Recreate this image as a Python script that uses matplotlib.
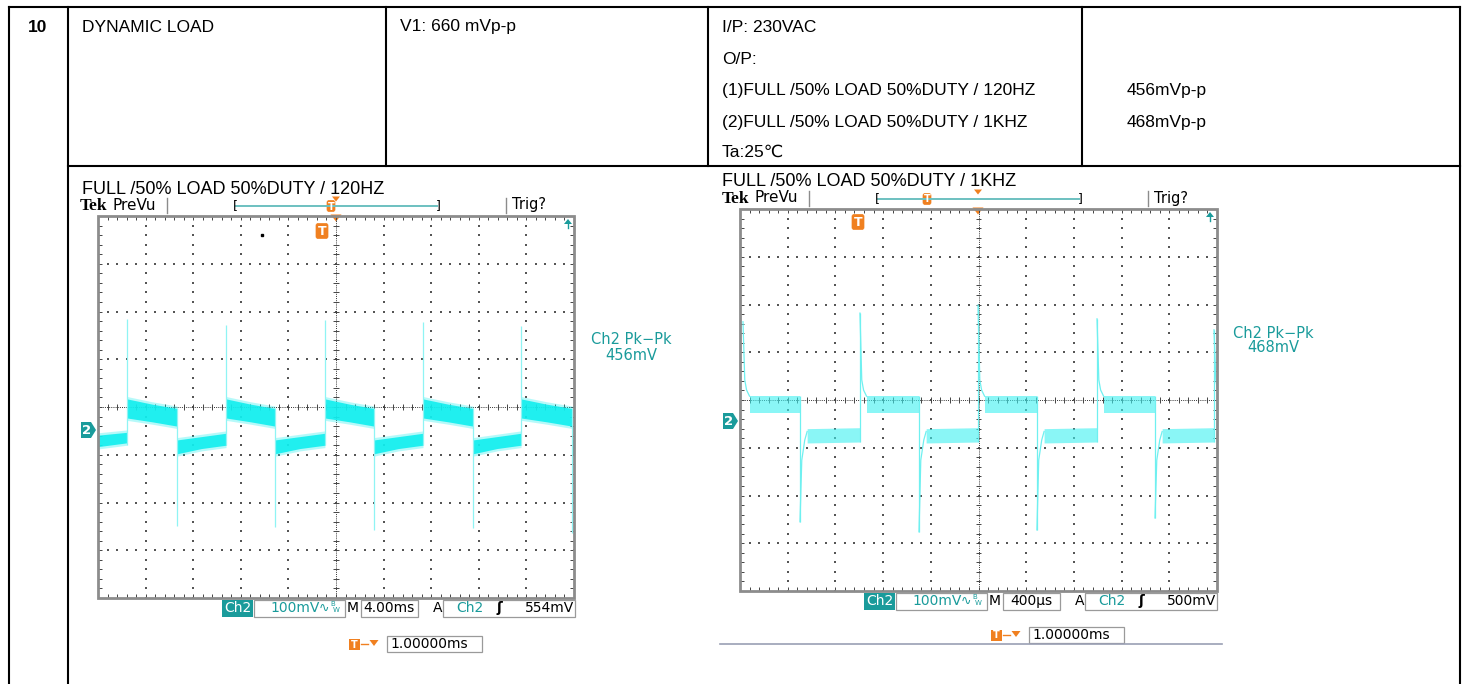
import matplotlib
matplotlib.use('Agg')
import matplotlib.pyplot as plt
from matplotlib import font_manager as fm
from matplotlib.patches import Rectangle, Polygon, FancyBboxPatch
import numpy as np

# ---------------- data ----------------
row_number = "10"
test_item = "DYNAMIC LOAD"
spec_text = "V1: 660 mVp-p"
condition_lines = ["I/P: 230VAC", "O/P:", "(1)FULL /50% LOAD 50%DUTY / 120HZ",
                   "(2)FULL /50% LOAD 50%DUTY / 1KHZ", "Ta:25\u2103"]
result_lines = ["", "", "456mVp-p", "468mVp-p", ""]
captions = ["FULL /50% LOAD 50%DUTY / 120HZ", "FULL /50% LOAD 50%DUTY / 1KHZ"]
pkpk_labels = ["456mV", "468mV"]
timebase_labels = ["4.00ms", "400\u00b5s"]
trigger_labels = ["554mV", "500mV"]
volt_label = "100mV"
delay_label = "1.00000ms"

# Scope 1 (120 Hz): time in ms (4 ms/div), voltage in mV (100 mV/div) from graticule centre
s1_tdiv = 4.0
s1_rise_t = [2.44, 10.76, 19.07, 27.31, 35.55]
s1_fall_t = [6.64, 14.87, 23.19, 31.51, 39.83]
s1_spike_up = [184, 172, 182, 178, 170]
s1_spike_down = [-249, -251, -258, -254, -264]
s1_high_top = [17, 6, -3]        # start / middle / end of each high plateau
s1_high_bot = [-23, -31, -40]
s1_low_top = [-69, -62, -55]     # start / middle / end of each low plateau
s1_low_bot = [-98, -87, -80]
s1_first_low_top = [-59, -53]
s1_first_low_bot = [-83, -75]

# Scope 2 (1 kHz): time in us (400 us/div), voltage in mV
s2_tdiv = 400.0
s2_rise_t = [25, 1006, 1996, 2994, 3975]
s2_spike_up = [164, 182, 199, 170, 147]
s2_fall_t = [503, 1501, 2490, 3480]
s2_spike_down = [-255, -276, -272, -247]
s2_high_top = [8, 8]
s2_high_bot = [-27, -27]
s2_low_top = [-60, -59, -58]
s2_low_bot = [-90, -89, -88]
s2_up_tail_dt = [0, 15, 30, 55]
s2_up_tail_v = [42, 21, 8]
s2_down_tail_dt = [0, 15, 40, 60]
s2_down_tail_v = [-126, -84, -66]

# ---------------- fonts ----------------
names = {f.name for f in fm.fontManager.ttflist}
if 'Liberation Sans Narrow' in names:
    NARROW, NSIZE = 'Liberation Sans Narrow', 15.0
else:
    NARROW, NSIZE = 'Liberation Sans', 12.5
NARROW_F = [NARROW, 'DejaVu Sans']

W, H = 1467, 684
fig = plt.figure(figsize=(W / 100, H / 100), dpi=100)
fig.patch.set_facecolor('white')
bg = fig.add_axes([0, 0, 1, 1])
bg.set_xlim(0, W)
bg.set_ylim(H, 0)
bg.axis('off')

LW = 1.5
def hline(y, x0, x1, lw=LW, c='black'):
    bg.plot([x0, x1], [y, y], color=c, lw=lw, solid_capstyle='projecting')
def vline(x, y0, y1, lw=LW, c='black'):
    bg.plot([x, x], [y0, y1], color=c, lw=lw, solid_capstyle='projecting')

# table frame
hline(7, 9, 1460)
vline(9, 7, 684)
vline(1460, 7, 684)
vline(68, 7, 684)
for x in (386, 708, 1082):
    vline(x, 7, 166)
hline(166, 68, 1460)

# table text
bg.text(28, 27, row_number, family=NARROW_F, fontsize=NSIZE, fontweight='bold', va='center', ha='left')
bg.text(82, 27, test_item, family=NARROW_F, fontsize=NSIZE, va='center', ha='left')
bg.text(400, 27, spec_text, family=NARROW_F, fontsize=NSIZE, va='center', ha='left')
cond_y = [27, 59, 91, 123, 152]
for y, t, r in zip(cond_y, condition_lines, result_lines):
    bg.text(722, y, t, family=NARROW_F, fontsize=NSIZE, va='center', ha='left')
    if r:
        bg.text(1127, y, r, family=NARROW_F, fontsize=NSIZE, va='center', ha='left')

bg.text(82, 189, captions[0], family=['Liberation Sans', 'DejaVu Sans'], fontsize=13, va='center', ha='left')
bg.text(722, 181, captions[1], family=['Liberation Sans', 'DejaVu Sans'], fontsize=13, va='center', ha='left')

TEAL = '#1a9b9b'
ORANGE = '#f08020'
SCOPE_F = 'DejaVu Sans'


def tmarker(x, y, w, h, fs):
    bg.add_patch(FancyBboxPatch((x - w / 2, y - h / 2), w, h, boxstyle='round,pad=0,rounding_size=2',
                                fc=ORANGE, ec=ORANGE, lw=0.5))
    bg.text(x, y + 0.5, 'T', color='white', fontsize=fs, fontweight='bold', family=SCOPE_F,
            ha='center', va='center')


def tri_down(x, y, w, h):
    bg.add_patch(Polygon([[x - w / 2, y - h / 2], [x + w / 2, y - h / 2], [x, y + h / 2]],
                         closed=True, fc=ORANGE, ec='none'))


def outline_box(x0, x1, yc, h=17):
    bg.add_patch(Rectangle((x0, yc - h / 2), x1 - x0, h, fc='white', ec='#9a9a9a', lw=0.9))


def scope_decor(x0, y0, small_t_dx, big_t, idx):
    # header
    bg.text(x0 - 18, y0 - 10, 'Tek', family=['Liberation Serif'], fontweight='bold', fontsize=12.5,
            ha='left', va='center')
    bg.text(x0 + 14, y0 - 11, 'PreVu', family=SCOPE_F, fontsize=11, ha='left', va='center')
    for dx in (69, 408):
        vline(x0 + dx, y0 - 18, y0 - 3, lw=1.0, c='#8c8c8c')
    bg.text(x0 + 414, y0 - 11, 'Trig?', family=SCOPE_F, fontsize=10.5, ha='left', va='center')
    bg.plot([x0 + 138, x0 + 339], [y0 - 10, y0 - 10], color='#6cc0c0', lw=1.4)
    bg.text(x0 + 137, y0 - 10, '[', family=SCOPE_F, fontsize=9, ha='center', va='center')
    bg.text(x0 + 340, y0 - 10, ']', family=SCOPE_F, fontsize=9, ha='center', va='center')
    tri_down(x0 + 238, y0 - 17, 8, 5)
    tmarker(x0 + small_t_dx, y0 - 10, 8, 11, 7)
    # markers on graticule
    tri_down(x0 + 238, y0 + 2, 11, 7)
    tmarker(x0 + big_t[0], y0 + big_t[1], 12, 15, 9)
    bg.add_patch(Polygon([[x0 + 466, y0 + 8], [x0 + 474, y0 + 8], [x0 + 470, y0 + 3]],
                         closed=True, fc=TEAL, ec='none'))
    vline(x0 + 470, y0 + 7, y0 + 12, lw=1.0, c=TEAL)
    # channel 2 ground marker
    cy = y0 + (214 if idx == 0 else 212)
    bg.add_patch(Polygon([[x0 - 17, cy - 8], [x0 - 7, cy - 8], [x0 - 2, cy], [x0 - 7, cy + 8], [x0 - 17, cy + 8]],
                         closed=True, fc=TEAL, ec='none'))
    bg.text(x0 - 11, cy + 0.5, '2', color='white', fontsize=9.5, fontweight='bold', family=SCOPE_F,
            ha='center', va='center')
    # Pk-Pk readout
    bg.text(x0 + 533, y0 + 124, 'Ch2 Pk\u2212Pk', color=TEAL, family=SCOPE_F, fontsize=10.5,
            ha='center', va='center')
    bg.text(x0 + 533, y0 + 139, pkpk_labels[idx], color=TEAL, family=SCOPE_F, fontsize=10.5,
            ha='center', va='center')
    # status bar
    sy = y0 + 392
    bg.add_patch(Rectangle((x0 + 124, sy - 8.5), 31, 17, fc=TEAL, ec='none'))
    bg.text(x0 + 139.5, sy, 'Ch2', color='white', family=SCOPE_F, fontsize=10, ha='center', va='center')
    outline_box(x0 + 156, x0 + 247, sy)
    bg.text(x0 + 172, sy, volt_label, color=TEAL, family=SCOPE_F, fontsize=10, ha='left', va='center')
    bg.text(x0 + 221, sy, '\u223f', color=TEAL, family=SCOPE_F, fontsize=9, ha='left', va='center')
    bg.text(x0 + 232, sy - 1, 'B', color=TEAL, family=SCOPE_F, fontsize=5, ha='left', va='bottom')
    bg.text(x0 + 235, sy - 1, 'W', color=TEAL, family=SCOPE_F, fontsize=5, ha='left', va='top')
    bg.text(x0 + 249, sy, 'M', color='black', family=SCOPE_F, fontsize=10, ha='left', va='center')
    outline_box(x0 + 263, x0 + 320, sy)
    bg.text(x0 + 291, sy, timebase_labels[idx], color='black', family=SCOPE_F, fontsize=10,
            ha='center', va='center')
    bg.text(x0 + 335, sy, 'A', color='black', family=SCOPE_F, fontsize=10, ha='left', va='center')
    outline_box(x0 + 345, x0 + 477, sy)
    bg.text(x0 + 358, sy, 'Ch2', color=TEAL, family=SCOPE_F, fontsize=10, ha='left', va='center')
    bg.text(x0 + 399, sy, '\u0283', color='black', family=SCOPE_F, fontsize=10, fontweight='bold',
            ha='left', va='center')
    bg.text(x0 + 476, sy, trigger_labels[idx], color='black', family=SCOPE_F, fontsize=10,
            ha='right', va='center')
    # delay row
    dy = y0 + (428 if idx == 0 else 426)
    bg.add_patch(Rectangle((x0 + 251, dy - 5), 11, 11, fc=ORANGE, ec='none'))
    bg.text(x0 + 256.5, dy + 0.5, 'T', color='white', fontsize=7, fontweight='bold', family=SCOPE_F,
            ha='center', va='center')
    bg.plot([x0 + 263, x0 + 270], [dy, dy], color=ORANGE, lw=1)
    tri_down(x0 + 276, dy - 1, 9, 6)
    outline_box(x0 + 289, x0 + 384, dy, h=16)
    bg.text(x0 + 292, dy, delay_label, color='black', family=SCOPE_F, fontsize=10, ha='left', va='center')


scope_decor(98, 216, 233, (224, 15), 0)
scope_decor(740, 209, 187, (118, 13), 1)
bg.plot([720, 1222], [644, 644], color='#9aa0b4', lw=1.2)
bg.plot([262], [235], marker='s', ms=1.6, color='black')


def make_scope(box, tdiv):
    x0, y0, x1, y1 = box
    ax = fig.add_axes([x0 / W, 1 - y1 / H, (x1 - x0) / W, (y1 - y0) / H])
    ax.set_xlim(0, 10 * tdiv)
    ax.set_ylim(-400, 400)
    ax.axis('off')
    ax.patch.set_alpha(0)
    gc = '#555555'
    ys = np.arange(-20, 21) * 20.0
    xs = np.arange(0, 51) * 0.2 * tdiv
    for k in range(1, 10):
        if k == 5:
            continue
        ax.scatter(np.full(ys.size, k * tdiv), ys, s=0.8, marker='s', c=gc, lw=0, zorder=1)
    for j in (-3, -2, -1, 1, 2, 3):
        ax.scatter(xs, np.full(xs.size, j * 100.0), s=0.8, marker='s', c=gc, lw=0, zorder=1)
    ax.axhline(0, color='#333333', lw=0.7, ls=(0, (1, 1.2)), zorder=1)
    ax.axvline(5 * tdiv, color='#333333', lw=0.7, ls=(0, (1, 1.2)), zorder=1)
    ax.vlines(xs, -6, 6, color='#444444', lw=0.7, zorder=1)
    ax.hlines(ys, 5 * tdiv - 0.06 * tdiv, 5 * tdiv + 0.06 * tdiv, color='#444444', lw=0.7, zorder=1)
    ax.vlines(xs, 400 - 8, 400, color='#444444', lw=0.7, zorder=1)
    ax.vlines(xs, -400, -400 + 8, color='#444444', lw=0.7, zorder=1)
    ax.hlines(ys, 0, 0.08 * tdiv, color='#444444', lw=0.7, zorder=1)
    ax.hlines(ys, 10 * tdiv - 0.08 * tdiv, 10 * tdiv, color='#444444', lw=0.7, zorder=1)
    ax.add_patch(Rectangle((0, -400), 10 * tdiv, 800, fc='none', ec='#8c8c8c', lw=2.0, zorder=5,
                           clip_on=False))
    return ax


def band(ax, t, bot, top, color, alpha, fringe):
    bot = np.asarray(bot, float)
    top = np.asarray(top, float)
    if fringe:
        ax.fill_between(t, bot - fringe, top + fringe, color=color, lw=0, alpha=0.3, zorder=3)
    ax.fill_between(t, bot, top, color=color, lw=0, alpha=alpha, zorder=3)


# ---- scope 1 waveform ----
ax1 = make_scope((98, 216, 574, 598), s1_tdiv)
BAND1 = '#10eeee'
SPK1 = '#8ff4f4'
band(ax1, [0, s1_rise_t[0]], s1_first_low_bot, s1_first_low_top, BAND1, 0.9, 5)
for i, (r, f) in enumerate(zip(s1_rise_t, s1_fall_t)):
    band(ax1, [r, (r + f) / 2, f], s1_high_bot, s1_high_top, BAND1, 0.9, 5)
    if i + 1 < len(s1_rise_t):
        nxt = s1_rise_t[i + 1]
        band(ax1, [f, (f + nxt) / 2, nxt], s1_low_bot, s1_low_top, BAND1, 0.9, 5)
    else:
        band(ax1, [f, 10 * s1_tdiv], s1_low_bot[:1] * 2, s1_low_top[:1] * 2, BAND1, 0.9, 5)
ax1.vlines(s1_rise_t, s1_low_bot[-1], s1_spike_up, color=SPK1, lw=0.9, zorder=4)
ax1.vlines(s1_fall_t, s1_spike_down, s1_high_top[-1], color=SPK1, lw=0.9, zorder=4)

# ---- scope 2 waveform ----
ax2 = make_scope((740, 209, 1217, 591), s2_tdiv)
BAND2 = '#3df0f0'
SPK2 = '#6ff0f0'
for i, f in enumerate(s2_fall_t):
    r = s2_rise_t[i]
    band(ax2, [r + s2_up_tail_dt[-1], f], s2_high_bot, s2_high_top, BAND2, 0.6, 0)
    nxt = s2_rise_t[i + 1]
    a = f + s2_down_tail_dt[-1]
    band(ax2, [a, (a + nxt) / 2, nxt], s2_low_bot, s2_low_top, BAND2, 0.6, 0)
    ax2.plot(np.array(s2_down_tail_dt) + f, [s2_spike_down[i]] + s2_down_tail_v, color=SPK2, lw=0.9, zorder=4)
for i, r in enumerate(s2_rise_t):
    ax2.plot(np.array(s2_up_tail_dt) + r, [s2_spike_up[i]] + s2_up_tail_v, color=SPK2, lw=0.9, zorder=4)
ax2.vlines(s2_rise_t[1:], s2_low_bot[-1], s2_spike_up[1:], color=SPK2, lw=0.9, zorder=4)
ax2.vlines(s2_fall_t, s2_spike_down, s2_high_top[-1], color=SPK2, lw=0.9, zorder=4)

fig.savefig('out.png', dpi=100, facecolor='white')
